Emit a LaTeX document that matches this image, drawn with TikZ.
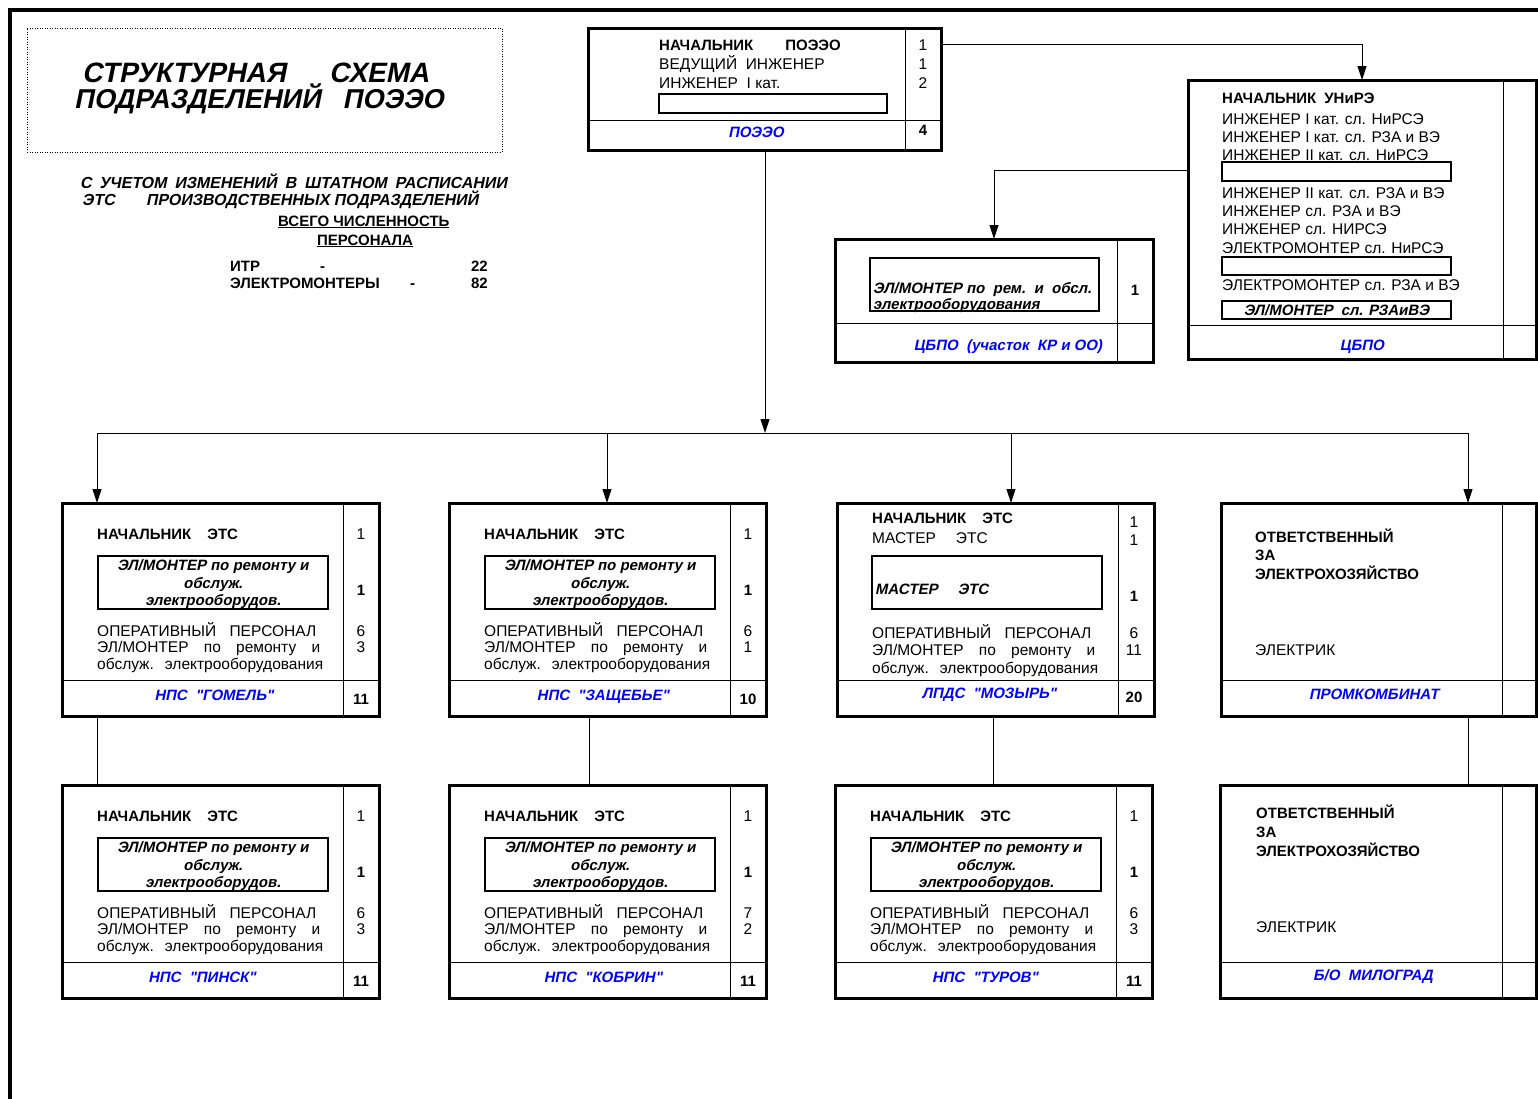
\documentclass[tikz,border=0pt]{standalone}
\usepackage{fontspec}
\setmainfont{Liberation Sans}
\newfontfamily\lsans{Liberation Sans}[ItalicFont=*, ItalicFeatures={FakeSlant=0.2},
  BoldItalicFont={* Bold}, BoldItalicFeatures={FakeSlant=0.2}]
\usetikzlibrary{arrows.meta}

% one ETS unit: name, left, top, station, two counts, total, station offset
\newcommand{\etsunit}[8]{%
  \node[unit, minimum width=317pt, minimum height=213pt] (#1) at ({#2+158.5},{#3+106.5}) {};
  \draw[rule] ({#2+281},#3) -- ({#2+281},{#3+213});
  \draw[rule] (#2,{#3+177}) -- ({#2+317},{#3+177});
  \node[inbox, minimum width=230pt, minimum height=53pt] (#1-in) at ({#2+151},{#3+79.5}) {};
  \node[head] (#1-head) at ({#2+35},{#3+36}) {НАЧАЛЬНИК\hspace{16pt}ЭТС};
  \node[num] (#1-n0) at ({#2+299},{#3+36}) {1};
  \node[boxtxt] (#1-i1) at ({#2+151},{#3+67}) {ЭЛ/МОНТЕР по ремонту и};
  \node[boxtxt] (#1-i2) at ({#2+151},{#3+85}) {обслуж.};
  \node[boxtxt] (#1-i3) at ({#2+151},{#3+102}) {электрооборудов.};
  \node[bnum] (#1-ni) at ({#2+299},{#3+92}) {1};
  \node[txt] (#1-t1) at ({#2+35},{#3+133}) {\makebox[219pt][s]{ОПЕРАТИВНЫЙ ПЕРСОНАЛ}};
  \node[txt] (#1-t2) at ({#2+35},{#3+149}) {\makebox[223pt][s]{ЭЛ/МОНТЕР по ремонту и}};
  \node[txt] (#1-t3) at ({#2+35},{#3+166}) {\makebox[226pt][s]{обслуж. электрооборудования}};
  \node[num] (#1-n1) at ({#2+299},{#3+133}) {#5};
  \node[num] (#1-n2) at ({#2+299},{#3+149}) {#6};
  \node[station] (#1-name) at ({#2+#8},{#3+197}) {#4};
  \node[bnum] (#1-sum) at ({#2+299},{#3+201}) {#7};
}

\begin{document}
\begin{tikzpicture}[
  x=1pt, y=-1pt,
  every node/.style={inner sep=0pt},
  frame/.style={line width=4pt},
  titlebox/.style={draw, line width=1pt, dash pattern=on 1pt off 1.5pt},
  unit/.style={draw, line width=3pt, inner sep=0pt, outer sep=0pt},
  inbox/.style={draw, line width=2pt, inner sep=0pt, outer sep=0pt},
  rule/.style={line width=1pt},
  link/.style={draw, line width=1pt},
  arrow/.style={draw, line width=1pt, -{Triangle[length=14pt,width=9pt]}},
  title/.style={anchor=base west, font=\lsans\fontsize{28}{32}\selectfont\bfseries\itshape},
  sub/.style={anchor=base west, font=\lsans\fontsize{16}{18}\selectfont\bfseries\itshape},
  txt/.style={anchor=base west, font=\lsans\fontsize{15.5}{18}\selectfont},
  head/.style={anchor=base west, font=\lsans\fontsize{15}{18}\selectfont\bfseries},
  num/.style={anchor=base, font=\lsans\fontsize{15.5}{18}\selectfont},
  bnum/.style={anchor=base, font=\lsans\fontsize{15}{18}\selectfont\bfseries},
  boxtxt/.style={anchor=base, font=\lsans\fontsize{15}{18}\selectfont\bfseries\itshape},
  station/.style={anchor=base, text=blue, font=\lsans\fontsize{15}{18}\selectfont\bfseries\itshape}]

  \useasboundingbox (0,0) rectangle (1538,1098);
  \fill[white] (0,0) rectangle (1538,1098);
  \draw[frame] (10,1110) -- (10,10) -- (1545,10);

  % title block
  \node[titlebox, minimum width=475pt, minimum height=124pt] (ttl) at (264.5,90) {};
  \node[title] (ttl1) at (82,82) {СТРУКТУРНАЯ\hspace{43pt}СХЕМА};
  \node[title, font=\lsans\fontsize{27.3}{32}\selectfont\bfseries\itshape] (ttl2) at (74,108) {ПОДРАЗДЕЛЕНИЙ\hspace{22pt}ПОЭЭО};
  \node[sub] (sub1) at (80,188) {\makebox[427pt][s]{С УЧЕТОМ ИЗМЕНЕНИЙ В ШТАТНОМ РАСПИСАНИИ}};
  \node[sub] (sub2) at (82,205) {ЭТС};
  \node[sub] (sub3) at (146,205) {ПРОИЗВОДСТВЕННЫХ ПОДРАЗДЕЛЕНИЙ};
  \node[head] (tot1) at (278,226) {\underline{ВСЕГО ЧИСЛЕННОСТЬ}};
  \node[head] (tot2) at (317,245) {\underline{ПЕРСОНАЛА}};
  \node[head] (itr) at (230,271) {ИТР};
  \node[head] (itr-d) at (320,271) {-};
  \node[head, anchor=base east] (itr-n) at (488,271) {22};
  \node[head] (em) at (230,288) {ЭЛЕКТРОМОНТЕРЫ};
  \node[head] (em-d) at (410,288) {-};
  \node[head, anchor=base east] (em-n) at (488,288) {82};

  % ПОЭЭО
  \node[unit, minimum width=353pt, minimum height=122pt] (poeeo) at (765,89) {};
  \draw[rule] (905,28) -- (905,150);
  \draw[rule] (589,120) -- (941,120);
  \node[inbox, minimum width=228pt, minimum height=19pt] (poeeo-in) at (773,103.5) {};
  \node[head] (p1) at (659,50) {НАЧАЛЬНИК\hspace{32pt}ПОЭЭО};
  \node[txt] (p2) at (659,69) {ВЕДУЩИЙ\ \ ИНЖЕНЕР};
  \node[txt] (p3) at (659,88) {ИНЖЕНЕР\ \ I кат.};
  \node[num] (p1-n) at (923,50) {1};
  \node[num] (p2-n) at (923,69) {1};
  \node[num] (p3-n) at (923,88) {2};
  \node[station] (poeeo-name) at (756,137) {ПОЭЭО};
  \node[bnum] (poeeo-sum) at (923,135) {4};

  % ЦБПО (УНиРЭ)
  \node[unit, minimum width=348pt, minimum height=279pt] (unire) at (1362,219.5) {};
  \draw[rule] (1503,80) -- (1503,359);
  \draw[rule] (1188,325) -- (1536,325);
  \node[head] (u1) at (1222,103) {НАЧАЛЬНИК\hspace{8pt}УНиРЭ};
  \node[txt] (u2) at (1222,124) {ИНЖЕНЕР I кат. сл. НиРСЭ};
  \node[txt] (u3) at (1222,142) {ИНЖЕНЕР I кат. сл. РЗА и ВЭ};
  \node[txt] (u4) at (1222,160) {ИНЖЕНЕР II кат. сл. НиРСЭ};
  \node[inbox, minimum width=229pt, minimum height=19pt] (u-in1) at (1336.5,171.5) {};
  \node[txt] (u5) at (1222,198) {ИНЖЕНЕР II кат. сл. РЗА и ВЭ};
  \node[txt] (u6) at (1222,216) {ИНЖЕНЕР сл. РЗА и ВЭ};
  \node[txt] (u7) at (1222,234) {ИНЖЕНЕР сл. НИРСЭ};
  \node[txt] (u8) at (1222,253) {ЭЛЕКТРОМОНТЕР сл. НиРСЭ};
  \node[inbox, minimum width=229pt, minimum height=18pt] (u-in2) at (1336.5,266) {};
  \node[txt] (u9) at (1222,290) {ЭЛЕКТРОМОНТЕР сл. РЗА и ВЭ};
  \node[inbox, minimum width=229pt, minimum height=18pt] (u-in3) at (1336.5,310) {};
  \node[boxtxt] (u10) at (1336.5,315) {ЭЛ/МОНТЕР\hspace{8pt}сл. РЗАиВЭ};
  \node[station] (unire-name) at (1362,350) {ЦБПО};

  % ЦБПО (участок КР и ОО)
  \node[unit, minimum width=318pt, minimum height=123pt] (uch) at (994,300.5) {};
  \draw[rule] (1117,239) -- (1117,362);
  \draw[rule] (835,323) -- (1153,323);
  \node[inbox, minimum width=229pt, minimum height=53pt] (uch-in) at (984.5,284.5) {};
  \node[boxtxt, anchor=base west] (uch1) at (873,293) {ЭЛ/МОНТЕР по\ \ рем.\ \ и\ \ обсл.};
  \node[boxtxt, anchor=base west] (uch2) at (873,309) {электрооборудования};
  \node[bnum] (uch-n) at (1135,295) {1};
  \node[station] (uch-name) at (1008,350) {ЦБПО\ \ (участок\ \ КР и ОО)};

  % ETS units
  \etsunit{gomel}{62}{503}{НПС\ \ "ГОМЕЛЬ"}{6}{3}{11}{152}
  \etsunit{zasch}{449}{503}{НПС\ \ "ЗАЩЕБЬЕ"}{6}{1}{10}{154}
  \etsunit{pinsk}{62}{785}{НПС\ \ "ПИНСК"}{6}{3}{11}{140}
  \etsunit{kobrin}{449}{785}{НПС\ \ "КОБРИН"}{7}{2}{11}{154}
  \etsunit{turov}{835}{785}{НПС\ \ "ТУРОВ"}{6}{3}{11}{150}

  % ЛПДС "МОЗЫРЬ"
  \node[unit, minimum width=317pt, minimum height=213pt] (mozyr) at (995.5,609.5) {};
  \draw[rule] (1118,503) -- (1118,716);
  \draw[rule] (837,680) -- (1154,680);
  \node[inbox, minimum width=230pt, minimum height=53pt] (mozyr-in) at (987,582.5) {};
  \node[head] (m1) at (872,523) {НАЧАЛЬНИК\hspace{16pt}ЭТС};
  \node[txt] (m2) at (872,543) {МАСТЕР\hspace{20pt}ЭТС};
  \node[num] (m1-n) at (1134,527) {1};
  \node[num] (m2-n) at (1134,545) {1};
  \node[boxtxt, anchor=base west] (m3) at (875,594) {МАСТЕР\hspace{20pt}ЭТС};
  \node[bnum] (m3-n) at (1134,601) {1};
  \node[txt] (m4) at (872,638) {\makebox[219pt][s]{ОПЕРАТИВНЫЙ ПЕРСОНАЛ}};
  \node[txt] (m5) at (872,655) {\makebox[223pt][s]{ЭЛ/МОНТЕР по ремонту и}};
  \node[txt] (m6) at (872,673) {\makebox[226pt][s]{обслуж. электрооборудования}};
  \node[num] (m4-n) at (1134,638) {6};
  \node[num] (m5-n) at (1134,655) {11};
  \node[station] (mozyr-name) at (989,698) {ЛПДС\ \ "МОЗЫРЬ"};
  \node[bnum] (mozyr-sum) at (1134,702) {20};

  % ПРОМКОМБИНАТ
  \node[unit, minimum width=315pt, minimum height=213pt] (promk) at (1378.5,609.5) {};
  \draw[rule] (1502,503) -- (1502,716);
  \draw[rule] (1221,680) -- (1536,680);
  \node[head] (k1) at (1255,542) {ОТВЕТСТВЕННЫЙ};
  \node[head] (k2) at (1255,560) {ЗА};
  \node[head] (k3) at (1255,579) {ЭЛЕКТРОХОЗЯЙСТВО};
  \node[txt] (k4) at (1255,655) {ЭЛЕКТРИК};
  \node[station] (promk-name) at (1374,699) {ПРОМКОМБИНАТ};

  % Б/О МИЛОГРАД
  \node[unit, minimum width=316pt, minimum height=213pt] (milo) at (1378,891.5) {};
  \draw[rule] (1502,785) -- (1502,998);
  \draw[rule] (1220,962) -- (1536,962);
  \node[head] (g1) at (1256,818) {ОТВЕТСТВЕННЫЙ};
  \node[head] (g2) at (1256,837) {ЗА};
  \node[head] (g3) at (1256,856) {ЭЛЕКТРОХОЗЯЙСТВО};
  \node[txt] (g4) at (1256,932) {ЭЛЕКТРИК};
  \node[station] (milo-name) at (1373,980) {Б/О\ \ МИЛОГРАД};

  % arrows
  \coordinate (p-out) at (941,44);
  \coordinate (u-out) at (1188,170);
  \coordinate (bus) at (765,433);
  \coordinate (b1) at (97,433);
  \coordinate (b2) at (607,433);
  \coordinate (b3) at (1011,433);
  \coordinate (b4) at (1468,433);
  \draw[arrow] (p-out) -| (unire.north);
  \draw[arrow] (u-out) -| (uch.north);
  \draw[arrow] (poeeo.south) -- (bus);
  \draw[link] (b1) -- (b4);
  \draw[arrow] (b1) -- (b1 |- gomel.north);
  \draw[arrow] (b2) -- (b2 |- zasch.north);
  \draw[arrow] (b3) -- (b3 |- mozyr.north);
  \draw[arrow] (b4) -- (b4 |- promk.north);

  % links between the rows
  \coordinate (l1) at (97,750);
  \coordinate (l2) at (589,750);
  \coordinate (l3) at (993,750);
  \coordinate (l4) at (1468,750);
  \draw[link] (l1 |- gomel.south) -- (l1 |- pinsk.north);
  \draw[link] (l2 |- zasch.south) -- (l2 |- kobrin.north);
  \draw[link] (l3 |- mozyr.south) -- (l3 |- turov.north);
  \draw[link] (l4 |- promk.south) -- (l4 |- milo.north);
\end{tikzpicture}
\end{document}
